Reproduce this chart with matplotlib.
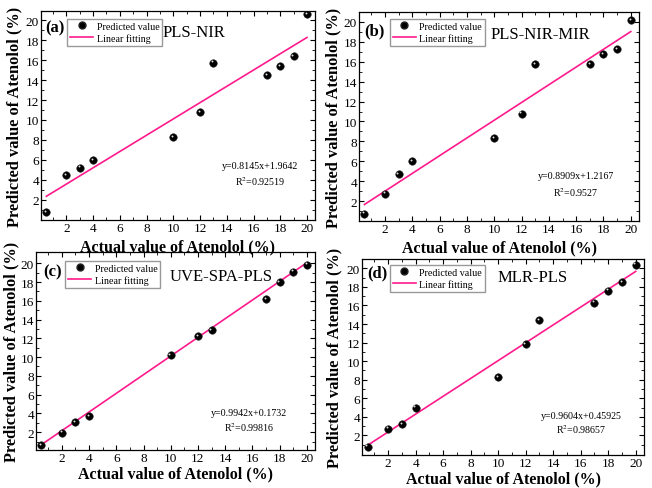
import numpy as np
import matplotlib
matplotlib.use("Agg")
import matplotlib.pyplot as plt
from matplotlib.lines import Line2D
from matplotlib.transforms import offset_copy

plt.rcParams["font.family"] = ["Liberation Serif", "DejaVu Serif"]
plt.rcParams["mathtext.fontset"] = "stix"

# ── Veri ─────────────────────────────────────────────────────────────────────
actual = [0.5, 2, 3, 4, 10, 12, 13, 17, 18, 19, 20]

pred_pls_nir     = [0.8, 4.5, 5.25, 6.0, 8.3, 10.8, 15.75, 14.5, 15.4, 16.4, 20.6]
pred_pls_nir_mir = [0.75, 2.75, 4.7, 6.0, 8.3, 10.8, 15.75, 15.75, 16.8, 17.3, 20.2]
pred_uve_spa_pls = [0.6, 1.95, 3.1, 3.7, 10.2, 12.25, 12.9, 16.15, 18.0, 19.1, 19.85]
pred_mlr_pls     = [0.8, 2.75, 3.25, 5.0, 8.3, 11.8, 14.4, 16.3, 17.6, 18.5, 20.4]

model_names = ["PLS-NIR", "PLS-NIR-MIR", "UVE-SPA-PLS", "MLR-PLS"]
panel_tags  = ["(a)", "(b)", "(c)", "(d)"]
slopes      = [0.8145, 0.8909, 0.9942, 0.9604]
intercepts  = [1.9642, 1.2167, 0.1732, 0.45925]
eq_texts    = ["y=0.8145x+1.9642", "y=0.8909x+1.2167", "y=0.9942x+0.1732", "y=0.9604x+0.45925"]
r2_texts    = ["0.92519", "0.9527", "0.99816", "0.98657"]

all_preds = [pred_pls_nir, pred_pls_nir_mir, pred_uve_spa_pls, pred_mlr_pls]

# ── Yerlesim (piksel: sol, sag, ust, alt) ────────────────────────────────────
W, H = 652, 489
boxes = [(41, 315, 12, 221), (359, 639, 13, 222), (36, 315, 253, 451), (362, 644, 260, 456)]
ylims = [(0, 20.9), (0, 21.0), (0.1, 21.2), (-0.1, 21.0)]
ylab_x = [14, 333, 11, 334]          # y-etiket merkezi (piksel)
xlab_y = [247, 248, 474, 479]        # x-etiket merkezi (piksel)
leg_pos = [(0.095, 0.962), (0.11, 0.967), (0.104, 0.955), (0.099, 0.97)]
tag_pos = [(0.015, 0.92), (0.02, 0.91), (0.025, 0.90), (0.018, 0.93)]
name_pos = [(0.445, 0.90), (0.468, 0.895), (0.48, 0.88), (0.479, 0.91)]
eq_pos = [(0.80, 0.26, 0.19), (0.775, 0.22, 0.14), (0.763, 0.19, 0.12), (0.777, 0.204, 0.133)]

PINK = "#ff1a8c"

fig = plt.figure(figsize=(W / 100, H / 100), dpi=100)

for i in range(4):
    l, r, t, b = boxes[i]
    ax = fig.add_axes([l / W, 1 - b / H, (r - l) / W, (b - t) / H])
    ax.set_facecolor("none")
    x = np.array(actual)
    y = np.array(all_preds[i])

    # lineer uydurma
    xf = np.array([x.min(), x.max()])
    ax.plot(xf, slopes[i] * xf + intercepts[i], color=PINK, lw=1.2, zorder=2)

    # kure gibi gorunen noktalar
    ax.plot(x, y, "o", ms=5.4, mfc="black", mec="#222222", mew=0.4, zorder=3)
    hl = offset_copy(ax.transData, fig=fig, x=-0.9, y=0.9, units="points")
    ax.plot(x, y, "o", ms=1.4, mfc="#dddddd", mec="none", transform=hl, zorder=4)

    ax.set_xlim(0.1, 20.6)
    ax.set_ylim(*ylims[i])
    ax.set_xticks(np.arange(2, 21, 2))
    ax.set_yticks(np.arange(2, 21, 2))
    ax.set_xticks(np.arange(1, 21, 1), minor=True)
    ax.set_yticks(np.arange(1, 21, 1), minor=True)
    ax.tick_params(which="both", direction="in", top=True, right=True, labelsize=9.5, pad=1.5)
    ax.tick_params(which="major", length=3.5, width=0.8)
    ax.tick_params(which="minor", length=2, width=0.6)
    for sp in ax.spines.values():
        sp.set_linewidth(0.9)

    ax.set_xlabel("Actual value of Atenolol (%)", fontsize=11.5, fontweight="bold")
    ax.set_ylabel("Predicted value of Atenolol (%)", fontsize=11.8, fontweight="bold")
    ax.xaxis.set_label_coords(0.5, -(xlab_y[i] - b) / (b - t))
    ax.yaxis.set_label_coords((ylab_x[i] - l) / (r - l), 0.5)
    ax.xaxis.label.set_va("center")
    ax.yaxis.label.set_va("center")

    handles = [
        Line2D([], [], ls="none", marker="o", ms=5, mfc="black", mec="#222222"),
        Line2D([], [], color=PINK, lw=1.2),
    ]
    ax.legend(handles, ["Predicted value", "Linear fitting"], loc="upper left",
              bbox_to_anchor=leg_pos[i], borderaxespad=0, fontsize=7.2, frameon=True,
              fancybox=False, edgecolor="#999999", framealpha=1, handlelength=2.3,
              handletextpad=0.35, borderpad=0.3, labelspacing=0.2)

    ax.text(*tag_pos[i], panel_tags[i], transform=ax.transAxes, fontsize=12,
            fontweight="bold", va="center", ha="left")
    ax.text(*name_pos[i], model_names[i], transform=ax.transAxes, fontsize=12,
            va="center", ha="left")
    ex, ey1, ey2 = eq_pos[i]
    ax.text(ex, ey1, eq_texts[i], transform=ax.transAxes, fontsize=7.2,
            ha="center", va="center")
    ax.text(ex, ey2, "R$^2$=" + r2_texts[i], transform=ax.transAxes, fontsize=7.2,
            ha="center", va="center")

fig.savefig("out.png", dpi=100)
